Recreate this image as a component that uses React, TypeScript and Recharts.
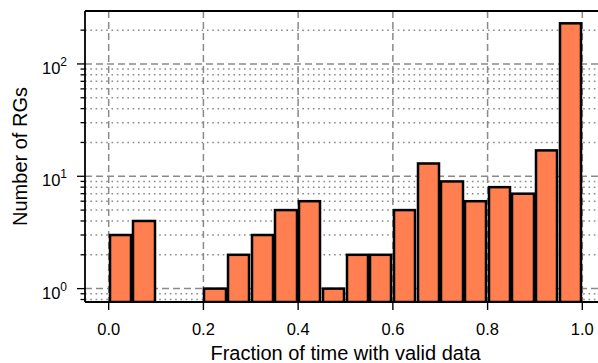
import React from 'react';
import {
  ComposedChart,
  Bar,
  XAxis,
  YAxis,
  CartesianGrid,
  ReferenceLine,
  Label,
} from 'recharts';

// histogram: 20 bins of width 0.05 over [0, 1]
const BIN_STARTS = [
  0.0, 0.05, 0.1, 0.15, 0.2, 0.25, 0.3, 0.35, 0.4, 0.45,
  0.5, 0.55, 0.6, 0.65, 0.7, 0.75, 0.8, 0.85, 0.9, 0.95,
];
const COUNTS = [3, 4, 0, 0, 1, 2, 3, 5, 6, 1, 2, 2, 5, 13, 9, 6, 8, 7, 17, 230];
const BIN_WIDTH = 0.05;

const X_TICKS = [0, 0.2, 0.4, 0.6, 0.8, 1.0];
const Y_MAJOR = [1, 10, 100];
const Y_MINOR = [0.8, 0.9, 2, 3, 4, 5, 6, 7, 8, 9, 20, 30, 40, 50, 60, 70, 80, 90, 200];
const X_DOMAIN = [-0.05, 1.05];
const Y_DOMAIN = [0.76, 296];

const FONT = '"Liberation Sans", Arial, sans-serif';
const BAR_FILL = '#FF7F50';
const GRID = '#8a8a8a';

const W = 612;
const H = 363;
const M = { top: 11, right: 6, bottom: 0, left: 0 };
const PLOT_W = W - M.left - M.right - 85;

const data = BIN_STARTS.map((s, i) => ({
  center: s + BIN_WIDTH / 2,
  count: COUNTS[i] > 0 ? COUNTS[i] : null,
}));

// snap bar edges to whole pixels so neighbouring bars share one edge
const HistBar = (props: any) => {
  const { x, y, width, height } = props;
  if (!height || height <= 0) return null;
  const x1 = Math.round(x);
  const x2 = Math.round(x + width);
  return (
    <rect x={x1} y={y} width={x2 - x1} height={height} fill={BAR_FILL} stroke="#000" strokeWidth={2.5} />
  );
};

const YTick = (props: any) => {
  const { x, y, payload } = props;
  const v = payload.value;
  const major = Y_MAJOR.includes(v);
  const len = major ? 8 : 4.5;
  const exp = Math.round(Math.log10(v));
  return (
    <g>
      <line x1={x - len} x2={x} y1={y} y2={y} stroke="#000" strokeWidth={1.3} />
      {major && (
        <text x={x - 18} y={y + 10} textAnchor="end" fontSize={16.5} fill="#000" fontFamily={FONT}>
          10
          <tspan dy={-8} fontSize={12}>
            {exp}
          </tspan>
        </text>
      )}
    </g>
  );
};

const XTick = (props: any) => {
  const { x, y, payload } = props;
  return (
    <text x={x} y={y + 23} textAnchor="middle" fontSize={16.5} fill="#000" fontFamily={FONT}>
      {payload.value.toFixed(1)}
    </text>
  );
};

export default function App() {
  return (
    <div style={{ position: 'absolute', left: 0, top: 0, width: 598, height: 363, overflow: 'hidden', background: '#fff' }}>
      <ComposedChart width={W} height={H} data={data} margin={M}>
        {/* minor y grid, dotted */}
        <CartesianGrid
          horizontalValues={Y_MINOR}
          vertical={false}
          stroke={GRID}
          strokeWidth={1.5}
          strokeDasharray="1.6 3.7"
        />
        {/* major grid, dashed */}
        <CartesianGrid
          horizontalValues={Y_MAJOR}
          verticalValues={X_TICKS}
          stroke={GRID}
          strokeWidth={1.5}
          strokeDasharray="7 4"
        />
        <XAxis
          dataKey="center"
          type="number"
          domain={X_DOMAIN}
          ticks={X_TICKS}
          allowDataOverflow
          stroke="#000"
          axisLine={{ stroke: '#000', strokeWidth: 1.8 }}
          tickLine={{ stroke: '#000', strokeWidth: 1.4 }}
          tickSize={8}
          tick={<XTick />}
          height={61}
        >
          <Label
            content={(p: any) => {
              const vb = p.viewBox;
              return (
                <text x={vb.x + vb.width / 2} y={360} textAnchor="middle" fontSize={20} fill="#000" fontFamily={FONT}>
                  Fraction of time with valid data
                </text>
              );
            }}
          />
        </XAxis>
        <YAxis
          type="number"
          scale="log"
          domain={Y_DOMAIN}
          allowDataOverflow
          ticks={[...Y_MAJOR, ...Y_MINOR]}
          interval={0}
          axisLine={{ stroke: '#000', strokeWidth: 1.8 }}
          tickLine={false}
          tickSize={0}
          tickMargin={0}
          tick={<YTick />}
          width={85}
        >
          <Label
            content={(p: any) => {
              const vb = p.viewBox;
              const cx = 27;
              const cy = vb.y + vb.height / 2;
              return (
                <text
                  x={cx}
                  y={cy}
                  transform={`rotate(-90, ${cx}, ${cy})`}
                  textAnchor="middle"
                  fontSize={20}
                  fill="#000"
                  fontFamily={FONT}
                >
                  Number of RGs
                </text>
              );
            }}
          />
        </YAxis>
        <Bar
          dataKey="count"
          shape={<HistBar />}
          barSize={(PLOT_W * BIN_WIDTH) / (X_DOMAIN[1] - X_DOMAIN[0])}
          isAnimationActive={false}
        />
        <ReferenceLine y={Y_DOMAIN[1]} stroke="#000" strokeWidth={1.8} />
      </ComposedChart>
    </div>
  );
}
